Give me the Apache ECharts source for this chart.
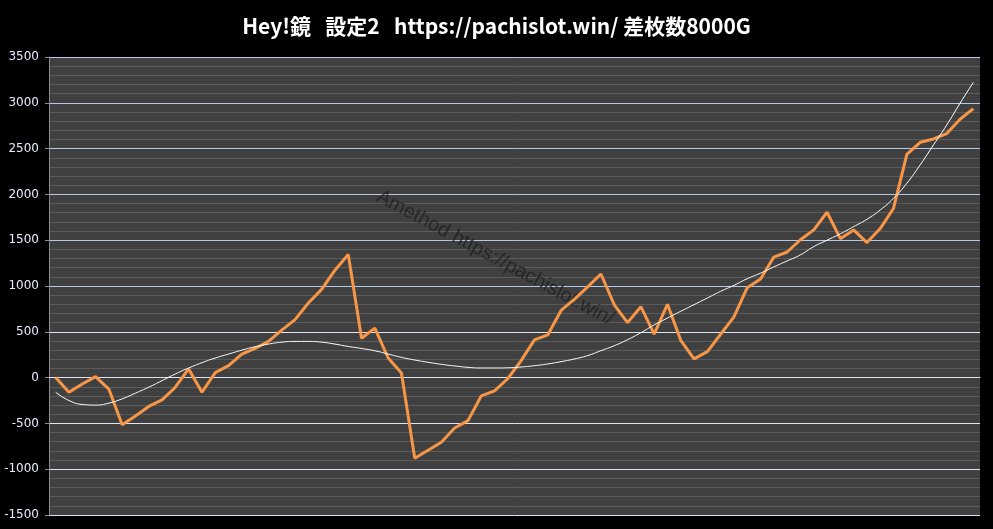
<!DOCTYPE html>
<html>
<head>
<meta charset="utf-8">
<script src="https://cdn.jsdelivr.net/npm/echarts@6/dist/echarts.min.js"></script>
<style>html,body{margin:0;padding:0;background:#000;}#c{width:993px;height:529px;}</style>
</head>
<body>
<div id="c"></div>
<script>
const titleText = 'Hey!鏡   設定2   https://pachislot.win/ 差枚数8000G';
const watermarkText = 'Amethod https://pachislot.win/';
const categories = Array.from({length: 70}, (_, i) => String(i + 1));
const diffCoins = [0, -160, -70, 10, -125, -515, -420, -315, -243, -105,
  95, -160, 55, 130, 257, 318, 395, 518, 633, 815,
  963, 1173, 1343, 430, 540, 214, 50, -880, -793, -706,
  -550, -470, -200, -145, -10, 185, 412, 466, 733, 854,
  990, 1131, 795, 600, 774, 475, 800, 407, 204, 284,
  473, 662, 982, 1076, 1316, 1371, 1505, 1613, 1805, 1517,
  1612, 1474, 1627, 1849, 2438, 2569, 2605, 2664, 2820, 2937];
const trend = [-160, -250, -293, -300, -279, -232, -170, -105, -33, 40,
  105, 163, 214, 257, 300, 337, 366, 387, 395, 395,
  387, 366, 340, 318, 293, 257, 221, 192, 167, 145,
  127, 112, 105, 105, 107, 116, 130, 149, 174, 203,
  240, 294, 348, 414, 490, 575, 650, 724, 796, 869,
  942, 1007, 1080, 1140, 1208, 1274, 1340, 1430, 1500, 1570,
  1648, 1729, 1830, 1958, 2122, 2322, 2540, 2758, 2995, 3224];
const yTicks = [-1500, -1000, -500, 0, 500, 1000, 1500, 2000, 2500, 3000, 3500];

const chart = echarts.init(document.getElementById('c'));
chart.setOption({
  backgroundColor: '#000000',
  animation: false,
  title: {
    text: titleText, left: 'center', top: 11,
    textStyle: {color: '#ffffff', fontSize: 21, fontWeight: 'bold', fontFamily: 'Noto Sans CJK JP'}
  },
  grid: {left: 49, right: 13, top: 57, bottom: 14, show: true, backgroundColor: '#404040', borderWidth: 0},
  graphic: [{
    type: 'text', x: 495, y: 258, rotation: -0.49, z: 1,
    style: {text: watermarkText, fill: 'rgba(30,30,30,0.75)', font: '20px "Liberation Sans", Arial', align: 'center', verticalAlign: 'middle'}
  }],
  xAxis: {
    type: 'category', data: categories, boundaryGap: true,
    axisLine: {show: true, lineStyle: {color: '#dde4f2', width: 1}},
    axisTick: {show: false}, axisLabel: {show: false}, splitLine: {show: false}
  },
  yAxis: {
    type: 'value', min: yTicks[0], max: yTicks[yTicks.length - 1], interval: 500,
    axisLine: {show: true, lineStyle: {color: '#8a8a8a', width: 1}},
    axisTick: {show: true, length: 4, lineStyle: {color: '#8a8a8a'}},
    axisLabel: {color: '#e6ecff', fontSize: 12, fontFamily: 'DejaVu Sans', margin: 10, formatter: v => String(v)},
    splitLine: {show: true, lineStyle: {width: 1, color: ['#dde4f2', '#dde4f2', '#dde4f2', '#dde4f2', '#dde4f2', '#b4c9ea', '#b4c9ea', '#b4c9ea', '#b4c9ea', '#b4c9ea', '#b4c9ea']}},
    minorTick: {show: false, splitNumber: 5},
    minorSplitLine: {show: true, lineStyle: {color: '#5c5c5c', width: 1}}
  },
  series: [
    {type: 'line', data: diffCoins, symbol: 'none', z: 3,
      lineStyle: {color: '#f79646', width: 3}},
    {type: 'line', data: trend, symbol: 'none', smooth: true, z: 4,
      lineStyle: {color: '#ffffff', width: 1}}
  ]
});
</script>
</body>
</html>
